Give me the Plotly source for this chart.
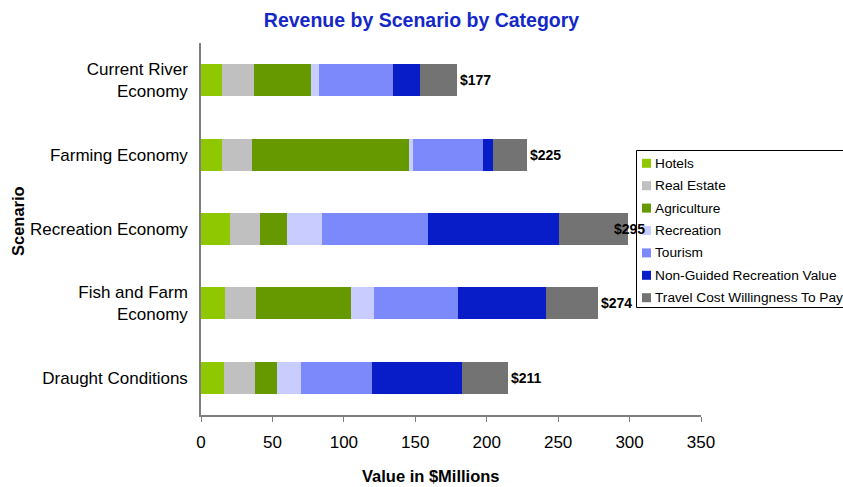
import plotly.graph_objects as go

scenarios = ["Current River<br>Economy", "Farming Economy", "Recreation Economy",
             "Fish and Farm<br>Economy", "Draught Conditions"]
categories = ["Hotels", "Real Estate", "Agriculture", "Recreation", "Tourism",
              "Non-Guided Recreation Value", "Travel Cost Willingness To Pay"]
hotels = [14.5, 14.5, 20.1, 16.6, 15.9]
real_estate = [22.4, 21.0, 21.0, 21.7, 21.7]
agriculture = [39.9, 109.9, 18.9, 66.5, 15.4]
recreation = [5.6, 2.8, 24.5, 16.1, 16.8]
tourism = [51.8, 49.1, 74.3, 58.9, 49.7]
non_guided = [18.9, 7.0, 91.7, 61.6, 63.1]
travel_cost = [26.4, 23.8, 48.3, 36.4, 32.2]
total_labels = ["$177", "$225", "$295", "$274", "$211"]
x_ticks = [0, 50, 100, 150, 200, 250, 300, 350]

series = [hotels, real_estate, agriculture, recreation, tourism, non_guided, travel_cost]
colors = ["#8FC800", "#C0C0C0", "#669900", "#C8CCFF", "#7B89FA", "#081CC8", "#737373"]

FONT = "Liberation Sans, Arial, sans-serif"
W, H = 843, 487
L, R, T, B = 201, 142, 43, 72
PW, PH = W - L - R, H - T - B
X_MAX = 350


def px(x):
    return (x - L) / PW


def py(y):
    return (T + PH - y) / PH


fig = go.Figure()
for name, vals, col in zip(categories, series, colors):
    fig.add_trace(go.Bar(
        y=scenarios, x=vals, name=name, orientation="h",
        marker=dict(color=col, line=dict(width=0)),
        showlegend=False,
    ))

# legend box (drawn like the reference's boxed legend, running off the right edge)
LEG_LEFT = 636.5
fig.add_shape(type="rect", xref="paper", yref="paper", layer="above",
              x0=px(LEG_LEFT), x1=px(860), y0=py(150.5), y1=py(307.5),
              fillcolor="white", line=dict(color="black", width=1))
for i, (name, col) in enumerate(zip(categories, colors)):
    yc = 163.3 + i * 22.4
    fig.add_shape(type="rect", xref="paper", yref="paper", layer="above",
                  x0=px(642), x1=px(651), y0=py(yc - 4.5), y1=py(yc + 4.5),
                  fillcolor=col, line=dict(width=0))
    fig.add_annotation(text=name, xref="paper", yref="paper", x=px(653), y=py(yc),
                       xanchor="left", yanchor="middle", showarrow=False,
                       font=dict(family=FONT, size=13.7, color="black"))

totals = [sum(v) for v in zip(*series)]
for s, t, lab in zip(scenarios, totals, total_labels):
    end_px = L + t / X_MAX * PW
    # a label that would run into the legend text is pulled back over the bar end
    shift = -16 if end_px + 30 > LEG_LEFT + 16 else 1
    fig.add_annotation(x=t, y=s, text="<b>%s</b>" % lab, showarrow=False,
                       xanchor="left", yanchor="middle", xshift=shift,
                       font=dict(family=FONT, size=14, color="black"))

# axis titles
fig.add_annotation(text="<b>Value in $Millions</b>", xref="paper", yref="paper",
                   x=px(431), y=py(476), xanchor="center", yanchor="middle",
                   showarrow=False, font=dict(family=FONT, size=16.5, color="black"))
fig.add_annotation(text="<b>Scenario</b>", xref="paper", yref="paper", textangle=-90,
                   x=px(18), y=py(221), xanchor="center", yanchor="middle",
                   showarrow=False, font=dict(family=FONT, size=16.5, color="black"))

fig.update_layout(
    width=W, height=H,
    margin=dict(l=L, r=R, t=T, b=B, autoexpand=False),
    paper_bgcolor="white", plot_bgcolor="white",
    barmode="stack", bargap=0.57,
    font=dict(family=FONT, size=17, color="black"),
    title=dict(text="<b>Revenue by Scenario by Category</b>", x=0.5, xanchor="center",
               y=1 - 20 / H, yanchor="middle",
               font=dict(family=FONT, size=19.5, color="#1428C8")),
    xaxis=dict(range=[0, X_MAX], tickvals=x_ticks, showgrid=False, zeroline=False,
               showline=True, linecolor="#7F7F7F", linewidth=1.5,
               ticks="outside", ticklen=5, tickcolor="#7F7F7F",
               ticklabelstandoff=6, automargin=False),
    yaxis=dict(autorange="reversed", showgrid=False, zeroline=False,
               showline=True, linecolor="#7F7F7F", linewidth=1.5, ticks="",
               ticklabelstandoff=8, automargin=False),
    showlegend=False,
)

fig.write_html("out.html", config={"displayModeBar": False},
               post_script="document.body.style.margin='0';")
